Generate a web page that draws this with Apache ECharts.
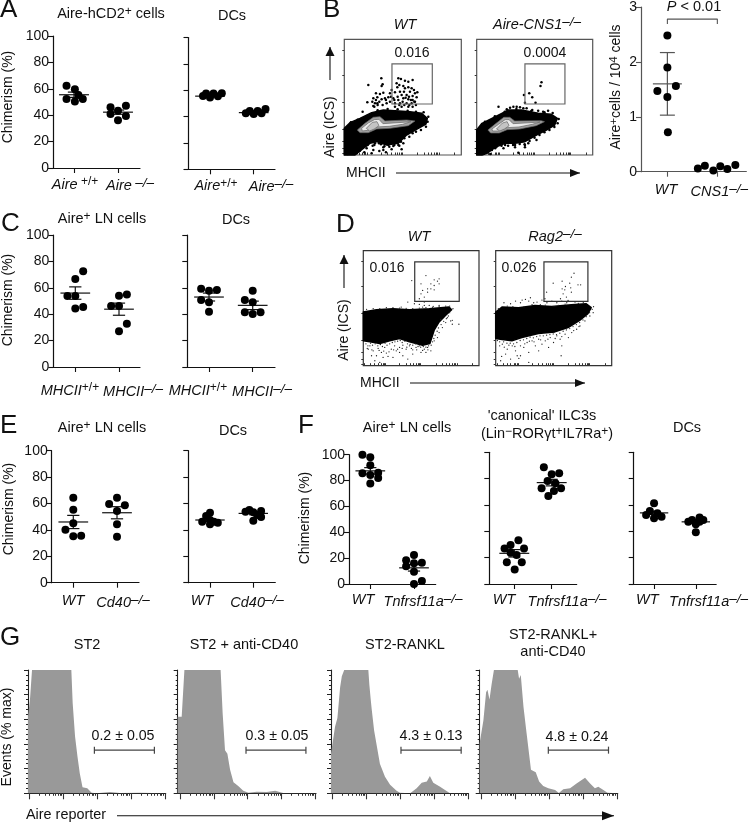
<!DOCTYPE html>
<html>
<head>
<meta charset="utf-8">
<style>html,body{margin:0;padding:0;background:#fff}#chart{width:751px;height:823px}</style>
<script src="https://cdn.jsdelivr.net/npm/echarts@6/dist/echarts.min.js"></script>
</head>
<body>
<div id="chart"></div>
<script>
const FONT = '"Liberation Sans", Arial, sans-serif';

// --- dot plots: [group position, value] ---
const aAireWt = [[0.83,62.4],[1.02,59.6],[1.1,55.3],[0.83,52.3],[1.02,50.3],[1.2,52.3]];
const aAireKo = [[1.83,46],[2,43.4],[2.18,47.2],[1.83,40.9],[2,36.1],[2.18,39.4]];
const aAireMean = [55.5, 42.3];
const aAireErr = [2, 1.6];
const aDcWt = [[0.84,55.7],[0.91,57.5],[1,54.4],[1.08,57.5],[1.18,55.4],[1.27,57.7]];
const aDcKo = [[1.82,42.5],[1.91,44.3],[2,42],[2.09,44.3],[2.18,42.5],[2.27,45.8]];
const aDcMean = [55.5, 43];
const aDcErr = [0.7, 0.7];

const bCountWt = [[1,2.48],[1,1.9],[0.8,1.47],[1.17,1.56],[1,1.36],[1.01,0.72]];
const bCountKo = [[1.61,0.06],[1.75,0.11],[1.92,0.02],[2.06,0.1],[2.2,0.05],[2.36,0.12]];
const bCountMean = [1.6];
const bCountErr = [0.57];
const bBracket = [[1,2.69],[1,2.78],[2,2.78],[2,2.69]];

const cAireWt = [[1.18,72.5],[1,66.7],[0.82,53.8],[1,53.8],[1,44.4],[1.18,45.5]];
const cAireKo = [[2,54],[2.18,55],[1.82,46.2],[2,46.2],[2.18,32.8],[2,27]];
const cAireMean = [56, 43.8];
const cAireErr = [4.7, 4.6];
const cDcWt = [[0.82,59.3],[1,57.8],[1.18,58.3],[0.82,50.8],[1,49],[1,41.9]];
const cDcKo = [[2,57.8],[1.82,50.8],[2,49],[1.82,41.4],[2,40.2],[2.18,41.4]];
const cDcMean = [53, 46.7];
const cDcErr = [3, 3.2];

const eAireWt = [[1,64.4],[1,55.3],[1,45],[0.82,40.2],[1,35.1],[1.18,35.6]];
const eAireKo = [[2,64.4],[1.82,59.6],[2.18,58.6],[2,54.3],[2,44.2],[2,34.8]];
const eAireMean = [46, 53];
const eAireErr = [5, 4.6];
const eDcWt = [[1,53],[0.91,50.5],[0.82,46.2],[1,47.5],[1.09,46.2],[1.18,45.5],[1,44.2]];
const eDcKo = [[1.91,55],[1.82,53.8],[2,53.3],[2.18,54.3],[2.09,51.3],[2.18,49.7],[2,47]];
const eDcMean = [47.5, 52.5];
const eDcErr = [1, 1];

const fAireWt = [[0.82,100],[1,98],[1,91.8],[0.82,85.6],[1,84.3],[1.18,86],[1.18,82],[1,77.8]];
const fAireKo = [[2,22.4],[1.82,18.3],[2,16],[2.18,16.5],[1.82,13.7],[2,9.5],[2.18,2.3],[2,0]];
const fAireMean = [87.5, 12.5];
const fAireErr = [2.5, 2.5];
const fIlcWt = [[1.11,33.2],[0.9,29.6],[0.74,27],[1.26,27],[0.9,23.8],[1.06,22],[0.8,16.5],[1.2,16.5],[1.01,11]];
const fIlcKo = [[1.79,88.6],[2.2,84],[2,83.3],[1.89,78.2],[2.1,76.5],[1.73,72.7],[2.25,72.7],[2.06,70.6],[1.91,66.8]];
const fIlcMean = [23.3, 77];
const fIlcErr = [2.8, 2.5];
const fDcWt = [[1,61.3],[0.9,55.4],[0.81,52.4],[1.08,53.7],[1,49.9],[1.18,51.1]];
const fDcKo = [[2.09,50.4],[1.91,48.6],[1.82,47.3],[2.18,48.6],[2,45.3],[2,39.2],[2.09,47.3]];
const fDcMean = [54, 47.2];
const fDcErr = [1.2, 1.2];

// tick labels
const aireLabels = ['{i|Aire} {s|+/+}', '{i|Aire} {si|\u2013/\u2013}'];
const aireLabels2 = ['{i|Aire}{s|+/+}', '{i|Aire}{si|\u2013/\u2013}'];
const mhcLabels = ['{i|MHCII}{s|+/+}', '{i|MHCII}{si|\u2013/\u2013}'];
const cd40Labels = ['{i|WT}', '{i|Cd40}{si|\u2013/\u2013}'];
const tnfLabels = ['{i|WT}', '{i|Tnfrsf11a}{si|\u2013/\u2013}'];
const cns1Labels = ['{i|WT}', '{i|CNS1}{si|\u2013/\u2013}'];

// --- flow plots: arbitrary channel units, 0-351 across, 0-347 up ---
const bWtBlob = [[0,0],[0,80],[17,97],[47,110],[82,127],[117,135],[152,133],[197,130],[232,125],[249,110],[245,93],[222,80],[187,60],[162,35],[127,30],[97,40],[77,35],[57,20],[32,0]];
const bWtContour1 = [[39,75],[62,95],[87,113],[107,115],[122,102],[187,105],[212,102],[192,88],[137,80],[97,78],[72,67],[47,67]];
const bWtContour2 = [[52,80],[72,96],[90,106],[104,107],[116,94],[190,99],[200,100],[175,92],[135,86],[95,84],[70,74],[54,72]];
const bWtContour3 = [[66,80],[84,98],[98,100],[104,88],[90,78],[76,72]];
const bWtDots = [[111,230],[72,210],[115,212],[112,207],[162,230],[170,228],[182,223],[192,220],[205,225],[157,215],[165,210],[159,203],[177,207],[182,200],[192,203],[202,200],[209,195],[219,188],[167,190],[179,190],[197,190],[212,185],[187,180],[205,177],[217,173],[152,188],[142,195],[137,185],[95,185],[107,183],[117,187],[87,170],[99,173],[112,167],[84,160],[92,155],[69,158],[87,147],[99,155],[122,170],[132,173],[147,170],[162,165],[177,170],[192,167],[205,165],[152,155],[167,155],[187,155],[202,155],[212,160],[137,160],[127,155],[115,150],[152,145],[172,145],[192,145],[55,130],[172,180],[184,172],[194,175],[200,165],[175,160],[160,175],[210,160],[215,150],[180,150],[165,150],[195,150],[205,145],[150,165],[140,175],[125,165],[105,160],[95,165],[90,145],[100,150],
  [47,13],[67,20],[87,15],[92,35],[117,23],[142,17],[162,30],[172,17],[12,15],[22,10],[37,5],[117,15],[82,5],[147,27],[177,35],[110,32],[132,30],[150,38],[170,40],[105,12],[60,8],[70,30],[85,28],[125,8],[30,18],
  [10,3],[20,25],[40,20],[50,30],[60,28],[75,38],[90,30],[104,35],[120,26],[135,25],[150,30],[165,28],[180,50],[195,55],[205,65],[215,70],[230,75],[245,85],[250,100],[252,115],[238,128],[215,130],[190,133],[160,137],[130,138],[100,134],[70,118],[40,106],[20,98]];
const bKoBlob = [[0,0],[0,75],[16,95],[46,110],[76,125],[96,135],[136,135],[186,125],[226,122],[244,110],[236,90],[211,75],[181,60],[146,40],[116,35],[86,35],[56,23],[31,5],[16,0]];
const bKoContour1 = [[34,75],[55,92],[82,113],[100,113],[115,102],[195,103],[205,100],[180,88],[130,78],[92,76],[68,66],[42,66]];
const bKoContour2 = [[46,78],[66,92],[86,106],[98,106],[110,94],[180,98],[192,99],[168,92],[128,84],[92,82],[66,72],[48,72]];
const bKoContour3 = [[60,78],[78,96],[92,100],[98,88],[84,78],[70,72]];
const bKoDots = [[196,218],[193,207],[159,185],[143,180],[168,173],[146,157],[178,157],[66,145],[101,142],[111,145],[121,145],[131,143],[141,140],[151,140],[91,137],[186,133],[201,130],[216,133],[168,135],
  [46,15],[56,20],[81,20],[116,30],[116,23],[146,23],[126,7],[86,30],[31,10],[11,15],[181,45],[156,35],[146,30],[41,3],
  [25,10],[45,18],[60,25],[75,28],[95,28],[110,30],[130,33],[145,32],[160,42],[175,52],[190,60],[205,68],[220,75],[235,84],[245,95],[248,108],[230,126],[205,128],[165,132],[120,138],[85,130],[55,116],[25,100]];
const bGateWt = [[143,153],[264,153],[264,273],[143,273]];
const bGateKo = [[146,153],[267,153],[267,273],[146,273]];

const dWtBlob = [[0,162],[40,169],[90,172],[140,169],[200,172],[260,177],[268,169],[250,152],[230,132],[215,107],[202,67],[180,62],[140,72],[110,82],[80,75],[50,67],[20,72],[0,75]];
const dWtDots = [[20,60],[30,45],[45,52],[55,40],[65,55],[70,38],[85,50],[95,60],[100,45],[110,55],[120,62],[130,50],[140,60],[150,48],[160,55],[170,60],[185,50],[195,55],[205,45],[60,25],[35,15],[50,10],[75,28],[90,25],[120,30],[135,20],[150,35],[25,30],[15,50],[40,30],[110,40],[175,40],[190,40],[215,75],[225,85],[230,100],[240,115],[250,130],[235,140],[255,145],[265,135],[270,125],[290,125],[270,137],
  [190,272],[147,257],[230,262],[215,259],[225,255],[205,247],[230,247],[215,242],[175,247],[180,227],[195,232],[205,232],[215,229],[175,217],[185,207],[195,222],[170,202],[185,192],[135,192],[155,187],[170,185],[185,182],[200,182],[212,179],[230,182],[115,177],[180,177],
  [8,66],[14,60],[22,68],[28,62],[36,66],[44,60],[52,64],[58,58],[66,68],[72,62],[80,66],[88,70],[96,72],[104,74],[112,76],[118,70],[126,74],[134,66],[142,64],[150,62],[158,66],[166,58],[174,56],[182,58],[190,56],[198,60],[206,62],[210,72],[214,82],[218,92],[224,104],[228,114],[236,124],[244,134],[252,142],[258,150],[262,160],
  [10,170],[30,172],[50,172],[70,175],[90,175],[110,174],[130,173],[150,172],[170,174],[190,175],[210,175],[230,178],[250,180],[262,180],[272,172],
  [12,52],[26,48],[48,46],[62,44],[78,42],[92,48],[104,50],[118,52],[132,56],[146,52],[162,48],[180,46],[196,48]];
const dKoBlob = [[0,162],[19,177],[69,175],[119,182],[169,179],[229,184],[274,187],[289,175],[279,157],[254,137],[219,115],[179,102],[129,97],[79,85],[49,75],[19,79],[0,82]];
const dKoDots = [[20,65],[35,50],[50,60],[30,35],[18,28],[45,20],[60,45],[75,60],[65,30],[85,55],[95,70],[100,40],[110,75],[120,60],[130,80],[140,65],[150,75],[165,85],[175,70],[185,90],[195,80],[210,95],[220,85],[230,100],[245,110],[255,120],[270,135],[285,150],[295,160],[198,30],[100,10],[70,22],[15,15],[130,45],[160,55],[200,60],[75,30],
  [25,190],[45,187],[60,195],[75,190],[90,200],[105,205],[115,190],[125,192],[140,198],[155,190],[170,195],[185,190],[200,195],[215,190],[240,192],[100,195],[80,198],
  [237,279],[229,267],[201,255],[174,249],[224,249],[249,244],[257,244],[211,239],[227,235],[201,232],[209,229],[229,222],[154,222],[204,217],[214,207],[196,202],[149,202],[219,197],
  [5,76],[12,72],[24,72],[34,68],[44,68],[54,66],[64,70],[74,76],[84,78],[94,82],[104,86],[114,84],[124,88],[134,90],[144,90],[154,92],[164,94],[174,96],[184,94],[194,98],[204,104],[214,108],[224,112],[234,118],[244,124],[254,130],[264,138],[274,148],[284,160],[292,170],[296,178],[40,62],[58,58],[88,66],[102,74],[116,72],[136,78],[158,80],[180,82],[200,88],[236,106],[252,118],[12,60],[26,56],
  [8,172],[35,180],[52,178],[86,178],[110,184],[135,184],[150,183],[190,182],[210,186],[250,188],[265,190]];
const dGateWt = [[156,194],[291,194],[291,313],[156,313]];
const dGateKo = [[146,194],[279,194],[279,313],[146,313]];
const flowTicksY = [5,20,40,77,157,240,315];
const flowTicksX = [4,22,34,44,55,60,64,68,110,130,142,152,160,166,170,174,220,240,252,262,270,276,280,284,330];

// --- histograms: [decade, % of max] ---
const gSt2 = [[-0.04,62],[0.02,76],[0.08,100],[1.24,100],[1.28,73],[1.35,46],[1.42,30],[1.49,16],[1.57,5],[1.71,4],[1.84,0.5],[1.99,0],[2.38,1],[2.67,0.3],[3.26,0.5],[4,0]];
const gSt2Cd40 = [[-0.07,62],[0.05,62],[0.13,100],[1.2,100],[1.26,65],[1.33,35],[1.4,32],[1.48,19],[1.58,9],[1.72,6],[1.87,2],[2.02,0.5],[2.27,1.3],[2.56,1],[2.81,2],[3.05,0.3],[4.02,0]];
const gRankl = [[-0.04,32],[0.08,54],[0.15,61],[0.23,86],[0.28,95],[0.35,100],[1.06,100],[1.09,88],[1.13,76],[1.16,68],[1.23,51],[1.4,24],[1.55,13.5],[1.7,7],[1.89,2],[1.99,0.5],[2.29,0],[2.48,4],[2.63,8.6],[2.78,9.5],[2.87,14],[2.97,8.6],[3.17,5.4],[3.46,0],[4,0]];
const gRanklCd40 = [[-0.04,40.5],[0.07,59],[0.15,82],[0.19,84],[0.25,76],[0.31,88],[0.38,100],[1.08,100],[1.12,93],[1.17,96],[1.25,70],[1.34,49],[1.47,19],[1.61,17],[1.71,9.5],[1.83,6],[1.98,4],[2.18,2.7],[2.29,0.3],[2.42,3.2],[2.62,4],[2.81,8],[3.06,12.7],[3.21,8],[3.35,4],[3.45,5.4],[3.6,2.7],[3.72,0.5],[4.02,0]];
const gGates = [[1.92,3.69,35],[1.95,3.72,35],[2.02,3.79,35],[1.98,3.75,35]];
const histMajor = [0,1,2,3,4];
const histMinor = [0.3,0.48,0.6,0.7,0.78,0.85,0.9,0.95,1.3,1.48,1.6,1.7,1.78,1.85,1.9,1.95,2.3,2.48,2.6,2.7,2.78,2.85,2.9,2.95,3.3,3.48,3.6,3.7,3.78,3.85,3.9,3.95];

// ---------------------------------------------------------------
const RICH = (size) => ({
  i: { fontStyle: 'italic', fontSize: size, fontFamily: FONT, color: '#111', fill: '#111' },
  n: { fontSize: size, fontFamily: FONT, color: '#111', fill: '#111' },
  s: { fontSize: size - 2.5, fontFamily: FONT, color: '#111', fill: '#111', verticalAlign: 'top', padding: [0, 0, 5, 0] },
  si: { fontStyle: 'italic', fontSize: size - 1, fontFamily: FONT, color: '#111', fill: '#111', verticalAlign: 'top', padding: [0, 0, 5, 0] }
});

const grids = [], xAxes = [], yAxes = [], series = [], graphics = [];

function txt(x, y, text, size, extra) {
  graphics.push({
    type: 'text', x, y, silent: true,
    rotation: extra && extra.rot ? Math.PI / 2 : 0,
    style: {
      text, fontSize: size || 14.5, fontFamily: FONT, fill: '#111',
      align: (extra && extra.align) || 'center', verticalAlign: 'middle',
      rich: RICH(size || 14.5)
    }
  });
}

function arrow(x1, y1, x2, y2, head, half, color) {
  graphics.push({ type: 'line', silent: true, shape: { x1, y1, x2, y2 }, style: { stroke: color || '#111', lineWidth: 1.1 } });
  const pts = x1 === x2
    ? [[x2, y2], [x2 - half, y2 + head], [x2 + half, y2 + head]]
    : [[x2, y2], [x2 - head, y2 - half], [x2 - head, y2 + half]];
  graphics.push({ type: 'polygon', silent: true, shape: { points: pts }, style: { fill: '#111' } });
}

// mean line with error bar, drawn in axis units
function errSeries(idx, means, errs, hw, capw, color) {
  return {
    type: 'custom', xAxisIndex: idx, yAxisIndex: idx, silent: true, z: 3,
    data: means.map((m, i) => [i + 1, m, errs[i]]),
    renderItem(params, api) {
      const x = api.value(0), m = api.value(1), e = api.value(2);
      const seg = (a, b, c, d) => {
        const p = api.coord([a, b]), q = api.coord([c, d]);
        return { type: 'line', shape: { x1: p[0], y1: p[1], x2: q[0], y2: q[1] }, style: { stroke: color, lineWidth: 1.2 } };
      };
      return { type: 'group', children: [
        seg(x - hw, m, x + hw, m),
        seg(x, m - e, x, m + e),
        seg(x - capw, m + e, x + capw, m + e),
        seg(x - capw, m - e, x + capw, m - e)
      ] };
    }
  };
}

function dotPanel(o) {
  const idx = grids.length;
  const sp = o.tick2 - o.tick1;
  grids.push({ left: o.left, top: o.top, width: o.right - o.left, height: o.bottom - o.top });
  const lineColor = o.color || '#111';
  xAxes.push({
    type: 'value', gridIndex: idx, position: 'bottom',
    min: 1 - (o.tick1 - o.left) / sp, max: 1 + (o.right - o.tick1) / sp,
    splitLine: { show: false },
    axisLine: { onZero: false, lineStyle: { color: lineColor, width: 1.2 } },
    axisTick: { length: 5, customValues: [1, 2], lineStyle: { color: lineColor, width: 1.1 } },
    axisLabel: {
      customValues: o.labelPx.map((p) => 1 + (p - o.tick1) / sp),
      hideOverlap: false, showMinLabel: true, showMaxLabel: true,
      margin: o.labelMargin || 8,
      formatter: (v) => {
        const i = Math.abs(v - (1 + (o.labelPx[0] - o.tick1) / sp)) < 1e-6 ? 0 : 1;
        return o.labels[i];
      },
      rich: RICH(14.5)
    }
  });
  yAxes.push({
    type: 'value', gridIndex: idx, min: 0, max: o.ymax || 100, interval: o.yint || 20,
    splitLine: { show: false },
    axisLine: { onZero: false, lineStyle: { color: lineColor, width: 1.2 } },
    axisTick: { length: 5, lineStyle: { color: lineColor, width: 1.1 } },
    axisLabel: { show: !!o.showY, fontSize: 14, fontFamily: FONT, color: '#111', margin: 4 }
  });
  series.push(errSeries(idx, o.means, o.errs, o.hw || 0.34, o.capw || 0.14, o.errColor || '#111'));
  o.dots.forEach((d) => series.push({
    type: 'scatter', xAxisIndex: idx, yAxisIndex: idx, symbolSize: 8, silent: true, z: 4, clip: false,
    itemStyle: { color: '#000', opacity: 1 }, data: d
  }));
  return idx;
}

// closed polygon through axis coordinates
function polySeries(idx, pts, style, z) {
  return {
    type: 'custom', xAxisIndex: idx, yAxisIndex: idx, silent: true, z: z || 2, clip: false,
    data: pts,
    renderItem(params, api) {
      if (params.dataIndex !== 0) return null;
      return { type: 'polygon', shape: { points: pts.map((p) => api.coord(p)) }, style };
    }
  };
}

function flowPanel(o) {
  const idx = grids.length;
  grids.push({
    left: o.left, top: o.top, width: o.right - o.left, height: o.bottom - o.top,
    show: true, borderColor: o.border, borderWidth: 1.2, backgroundColor: '#fff'
  });
  xAxes.push({
    type: 'value', gridIndex: idx, min: 0, max: 351, position: 'bottom', splitLine: { show: false },
    axisLine: { show: false }, axisLabel: { show: false },
    axisTick: { show: true, inside: true, length: 2.5, customValues: flowTicksX, lineStyle: { color: '#333', width: 1 } }
  });
  yAxes.push({
    type: 'value', gridIndex: idx, min: 0, max: 347, splitLine: { show: false },
    axisLine: { show: false }, axisLabel: { show: false },
    axisTick: { show: true, length: 2, customValues: flowTicksY, lineStyle: { color: '#333', width: 1 } }
  });
  series.push(polySeries(idx, o.blob, { fill: '#000', stroke: '#000', lineWidth: 1.5, lineJoin: 'round' }, 2));
  (o.contours || []).forEach((c, i) => series.push(polySeries(idx, c,
    { fill: ['#a0a0a0', '#ececec', '#c4c4c4'][i], stroke: '#666', lineWidth: 0.7 }, 3 + i)));
  series.push({
    type: 'scatter', xAxisIndex: idx, yAxisIndex: idx, silent: true, z: 7,
    symbolSize: o.dotSize, itemStyle: { color: o.dotColor, opacity: 1 }, data: o.dots
  });
  series.push(polySeries(idx, o.gate, { fill: 'none', stroke: o.gateColor, lineWidth: 1.2 }, 8));
  return idx;
}

function histPanel(o) {
  const idx = grids.length;
  const base = { type: 'value', gridIndex: idx, position: 'bottom', min: (o.left - o.tick0) / o.sp, max: (o.right - o.tick0) / o.sp, splitLine: { show: false } };
  grids.push({ left: o.left, top: 670, width: o.right - o.left, height: 123.3 });
  xAxes.push(Object.assign({}, base, {
    axisLine: { onZero: false, lineStyle: { color: '#222', width: 1.1 } },
    axisLabel: { show: false },
    axisTick: { length: 6, customValues: histMajor, lineStyle: { color: '#333', width: 1.1 } }
  }));
  yAxes.push({
    type: 'value', gridIndex: idx, min: 0, max: 100, interval: 20, splitLine: { show: false },
    axisLine: { onZero: false, lineStyle: { color: '#222', width: 1.1 } }, axisLabel: { show: false },
    axisTick: { length: 4, lineStyle: { color: '#222' } },
    minorTick: { show: true, splitNumber: 5, length: 2, lineStyle: { color: '#222' } }
  });
  series.push({
    type: 'line', xAxisIndex: idx, yAxisIndex: idx, data: o.data, symbol: 'none', silent: true, z: 2,
    lineStyle: { width: 0 }, areaStyle: { color: '#999999', opacity: 1 }
  });
  series.push({
    type: 'custom', xAxisIndex: idx, yAxisIndex: idx, silent: true, z: 4, data: [o.gate],
    renderItem(params, api) {
      const a = api.coord([api.value(0), api.value(2)]), b = api.coord([api.value(1), api.value(2)]);
      const s = { stroke: '#444', lineWidth: 1.2 };
      return { type: 'group', children: [
        { type: 'line', shape: { x1: a[0], y1: a[1], x2: b[0], y2: b[1] }, style: s },
        { type: 'line', shape: { x1: a[0], y1: a[1] - 3.5, x2: a[0], y2: a[1] + 3.5 }, style: s },
        { type: 'line', shape: { x1: b[0], y1: b[1] - 3.5, x2: b[0], y2: b[1] + 3.5 }, style: s }
      ] };
    }
  });
  // shorter log ticks share the grid through a second x axis
  xAxes.push(Object.assign({}, base, {
    axisLine: { show: false, onZero: false }, axisLabel: { show: false },
    axisTick: { show: true, length: 2.5, customValues: histMinor, lineStyle: { color: '#333' } }
  }));
}

function xIndexFix() {
  // histogram panels add two x axes, so series point at the x axis of their own grid
  const firstX = {};
  xAxes.forEach((a, i) => { if (firstX[a.gridIndex] == null) firstX[a.gridIndex] = i; });
  series.forEach((s) => { s.xAxisIndex = firstX[s.yAxisIndex]; });
}

// Panel A
dotPanel({ left: 53, right: 140, top: 36, bottom: 168, tick1: 74, tick2: 118, showY: true, dots: [aAireWt, aAireKo], means: aAireMean, errs: aAireErr, labels: aireLabels, labelPx: [75, 130] });
dotPanel({ left: 188.5, right: 275, top: 37.5, bottom: 169.3, tick1: 210, tick2: 253.7, dots: [aDcWt, aDcKo], means: aDcMean, errs: aDcErr, labels: aireLabels2, labelPx: [216, 271], capw: 0.08 });
// Panel B counts
dotPanel({ left: 641, right: 750, top: 6, bottom: 171.7, tick1: 668.3, tick2: 720, ymax: 3, yint: 1, showY: true, color: '#555', errColor: '#555', dots: [bCountWt, bCountKo], means: bCountMean, errs: bCountErr, labels: cns1Labels, labelPx: [667, 722], hw: 0.29, capw: 0.15, labelMargin: 11 });
const bIdx = grids.length - 1;
series.push({ type: 'line', xAxisIndex: bIdx, yAxisIndex: bIdx, data: bBracket, symbol: 'none', silent: true, lineStyle: { color: '#555', width: 1.1 } });
// Panel C
dotPanel({ left: 53.3, right: 140, top: 235, bottom: 367, tick1: 75.3, tick2: 119, showY: true, dots: [cAireWt, cAireKo], means: cAireMean, errs: cAireErr, labels: mhcLabels, labelPx: [70, 133], labelMargin: 15 });
dotPanel({ left: 187.3, right: 275, top: 235, bottom: 367, tick1: 209, tick2: 252.7, dots: [cDcWt, cDcKo], means: cDcMean, errs: cDcErr, labels: mhcLabels, labelPx: [198, 262], labelMargin: 15 });
// Panel E
dotPanel({ left: 51.7, right: 139, top: 450.7, bottom: 582.7, tick1: 73.3, tick2: 117, showY: true, dots: [eAireWt, eAireKo], means: eAireMean, errs: eAireErr, labels: cd40Labels, labelPx: [73, 123], labelMargin: 11 });
dotPanel({ left: 188.3, right: 275.3, top: 450.7, bottom: 582.7, tick1: 210, tick2: 253.3, dots: [eDcWt, eDcKo], means: eDcMean, errs: eDcErr, labels: cd40Labels, labelPx: [202, 257], labelMargin: 11, capw: 0.1 });
// Panel F
dotPanel({ left: 349, right: 435.7, top: 454.7, bottom: 584, tick1: 370.3, tick2: 414, showY: true, dots: [fAireWt, fAireKo], means: fAireMean, errs: fAireErr, labels: tnfLabels, labelPx: [363, 423], labelMargin: 8 });
dotPanel({ left: 489.3, right: 576.7, top: 452.3, bottom: 584, tick1: 514.3, tick2: 551.7, dots: [fIlcWt, fIlcKo], means: fIlcMean, errs: fIlcErr, labels: tnfLabels, labelPx: [504, 567], hw: 0.4, capw: 0.16, labelMargin: 8 });
dotPanel({ left: 633.7, right: 720, top: 452.3, bottom: 584, tick1: 655, tick2: 698.7, dots: [fDcWt, fDcKo], means: fDcMean, errs: fDcErr, labels: tnfLabels, labelPx: [648, 712], capw: 0.1, labelMargin: 8 });

// Flow plots B and D
flowPanel({ left: 344.3, right: 461.3, top: 39.3, bottom: 155, border: '#555', blob: bWtBlob, contours: [bWtContour1, bWtContour2, bWtContour3], dots: bWtDots, dotSize: 2.5, dotColor: '#000', gate: bGateWt, gateColor: '#666' });
flowPanel({ left: 476.7, right: 592.7, top: 39.3, bottom: 155, border: '#555', blob: bKoBlob, contours: [bKoContour1, bKoContour2, bKoContour3], dots: bKoDots, dotSize: 2.5, dotColor: '#000', gate: bGateKo, gateColor: '#666' });
flowPanel({ left: 363.3, right: 479, top: 250.7, bottom: 365.7, border: '#333', blob: dWtBlob, dots: dWtDots, dotSize: 1.3, dotColor: '#222', gate: dGateWt, gateColor: '#333' });
flowPanel({ left: 495.7, right: 611.7, top: 250.7, bottom: 365.7, border: '#333', blob: dKoBlob, dots: dKoDots, dotSize: 1.3, dotColor: '#222', gate: dGateKo, gateColor: '#333' });

// Histograms G
histPanel({ left: 28, right: 165.7, tick0: 29.3, sp: 33.9, data: gSt2, gate: gGates[0] });
histPanel({ left: 177.7, right: 316, tick0: 180, sp: 33.85, data: gSt2Cd40, gate: gGates[1] });
histPanel({ left: 331, right: 468.5, tick0: 332.3, sp: 34, data: gRankl, gate: gGates[2] });
histPanel({ left: 479.7, right: 617.7, tick0: 481, sp: 34, data: gRanklCd40, gate: gGates[3] });
xIndexFix();

// Panel letters
[['A', 0, 10], ['B', 323, 10], ['C', 1, 224], ['D', 336, 225], ['E', 0, 426], ['F', 298, 426], ['G', 0, 638]].forEach((l) => txt(l[1], l[2], l[0], 26, { align: 'left' }));

// Titles and annotations
txt(111, 14, 'Aire-hCD2{s|+} cells');
txt(232, 16, 'DCs');
txt(405, 25, '{i|WT}');
txt(537, 25, '{i|Aire-CNS1}{si|\u2013/\u2013}');
txt(412, 53, '0.016', 14);
txt(545, 53, '0.0004', 14);
txt(694, 7, '{i|P} < 0.01');
txt(102, 219, 'Aire{s|+} LN cells');
txt(236, 220, 'DCs');
txt(419, 237, '{i|WT}');
txt(555, 237, '{i|Rag2}{si|\u2013/\u2013}');
txt(387, 268, '0.016', 14);
txt(519, 268, '0.026', 14);
txt(102, 428, 'Aire{s|+} LN cells');
txt(233, 431, 'DCs');
txt(407, 428, 'Aire{s|+} LN cells');
txt(542, 416, "'canonical' ILC3s");
txt(547, 434, '(Lin{s|\u2212}ROR\u03b3t{s|+}IL7Ra{s|+})');
txt(687, 428, 'DCs');
txt(87, 645, 'ST2');
txt(244, 645, 'ST2 + anti-CD40');
txt(405, 645, 'ST2-RANKL');
txt(553, 635, 'ST2-RANKL+');
txt(553, 652, 'anti-CD40');
txt(123, 736, '0.2 \u00b1 0.05', 14.2);
txt(277, 736, '0.3 \u00b1 0.05', 14.2);
txt(431, 736, '4.3 \u00b1 0.13', 14.2);
txt(577, 737, '4.8 \u00b1 0.24', 14.2);

// Rotated axis names
txt(8, 97, 'Chimerism (%)', 14, { rot: true });
txt(8, 300, 'Chimerism (%)', 14, { rot: true });
txt(9, 509, 'Chimerism (%)', 14, { rot: true });
txt(305, 518, 'Chimerism (%)', 14, { rot: true });
txt(7, 737, 'Events (% max)', 14, { rot: true });
txt(616, 87, 'Aire{s|+}cells / 10{s|4} cells', 14, { rot: true });
txt(330, 127, 'Aire (ICS)', 14, { rot: true });
txt(344, 330, 'Aire (ICS)', 14, { rot: true });

// Axis direction arrows
txt(346, 173, 'MHCII', 14, { align: 'left' });
txt(360, 383, 'MHCII', 14, { align: 'left' });
txt(26, 815, 'Aire reporter', 14.4, { align: 'left' });
arrow(330, 80, 330, 47, 9, 4.5);
arrow(396, 173, 580, 173, 10, 4);
arrow(344, 288, 344, 255, 9, 4.5);
arrow(410, 383, 585, 383, 10, 4);
arrow(117, 815.7, 614, 815.7, 12, 4.5);

const chart = echarts.init(document.getElementById('chart'), null, { renderer: 'canvas' });
chart.setOption({
  animation: false,
  backgroundColor: '#fff',
  textStyle: { fontFamily: FONT },
  grid: grids,
  xAxis: xAxes,
  yAxis: yAxes,
  series,
  graphic: graphics
});
</script>
</body>
</html>
